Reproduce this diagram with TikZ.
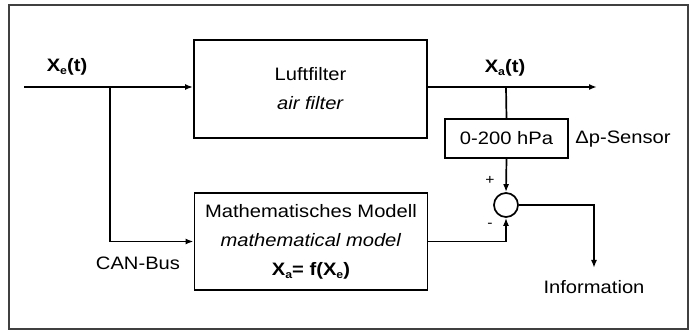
\documentclass[tikz,border=0pt]{standalone}
\usepackage{fontspec}
\setmainfont{Liberation Sans}[FakeStretch=1.12]
\usetikzlibrary{arrows.meta,calc}
\newcommand{\mysub}[1]{\raisebox{-0.3ex}{\fontsize{11}{11}\selectfont #1}}
\begin{document}
\begin{tikzpicture}[x=1pt,y=-1pt,
  line width=1.7pt,
  txt/.style={font=\fontsize{18}{29}\selectfont, inner sep=0pt},
  blk/.style={draw, line width=1.9pt, inner sep=0pt, align=center, font=\fontsize{18}{29}\selectfont},
  arr/.style={-{Latex[length=8pt,width=6pt]}},
  sumc/.style={draw, circle, minimum size=24pt, inner sep=0pt, line width=1.7pt}]
\useasboundingbox (0,0) rectangle (694,331);
\draw[line width=1.6pt, black!75] (9,5) rectangle (688,329);
% blocks
\node[blk, minimum width=233pt, minimum height=98pt] (filter) at (310.5,89) {Luftfilter\\\textit{air filter}};
\node[blk, minimum width=233pt, minimum height=97pt] (model) at (311,241.5) {Mathematisches Modell\\\textit{mathematical model}\\\textbf{X\mysub{a}= f(X\mysub{e})}};
\node[blk, minimum width=123pt, minimum height=39pt, line width=1.7pt] (sensor) at (506.5,138.5) {0-200 hPa};
\node[sumc] (sum) at (506,205) {};
% coordinates
\coordinate (in) at (24,87);
\coordinate (br) at (110,87);
\coordinate (out) at (597,87);
\coordinate (tap) at (506,87);
\coordinate (info) at (594,268);
% connectors
\draw[arr] (in) -- (in -| filter.west);
\draw[arr] (br) |- (model.west);
\draw[arr] (filter.east |- out) -- (out);
\draw (tap) -- (sensor.north);
\draw[arr] (sensor.south) -- (sum.north);
\draw[arr] (model.east) -| (sum.south);
\draw[arr] (sum.east) -| (info);
% labels
\node[txt] (lxe) at (67,67) {\textbf{X\mysub{e}(t)}};
\node[txt] (lxa) at (505,68) {\textbf{X\mysub{a}(t)}};
\node[txt] (ldp) at (623,139) {Δp-Sensor};
\node[txt] (lcan) at (138,263) {CAN-Bus};
\node[txt] (linfo) at (594,287) {Information};
\node[txt, font=\fontsize{14}{14}\selectfont] (lplus) at (490,180) {+};
\node[txt, font=\fontsize{14}{14}\selectfont] (lminus) at (490,225) {-};
\end{tikzpicture}
\end{document}
